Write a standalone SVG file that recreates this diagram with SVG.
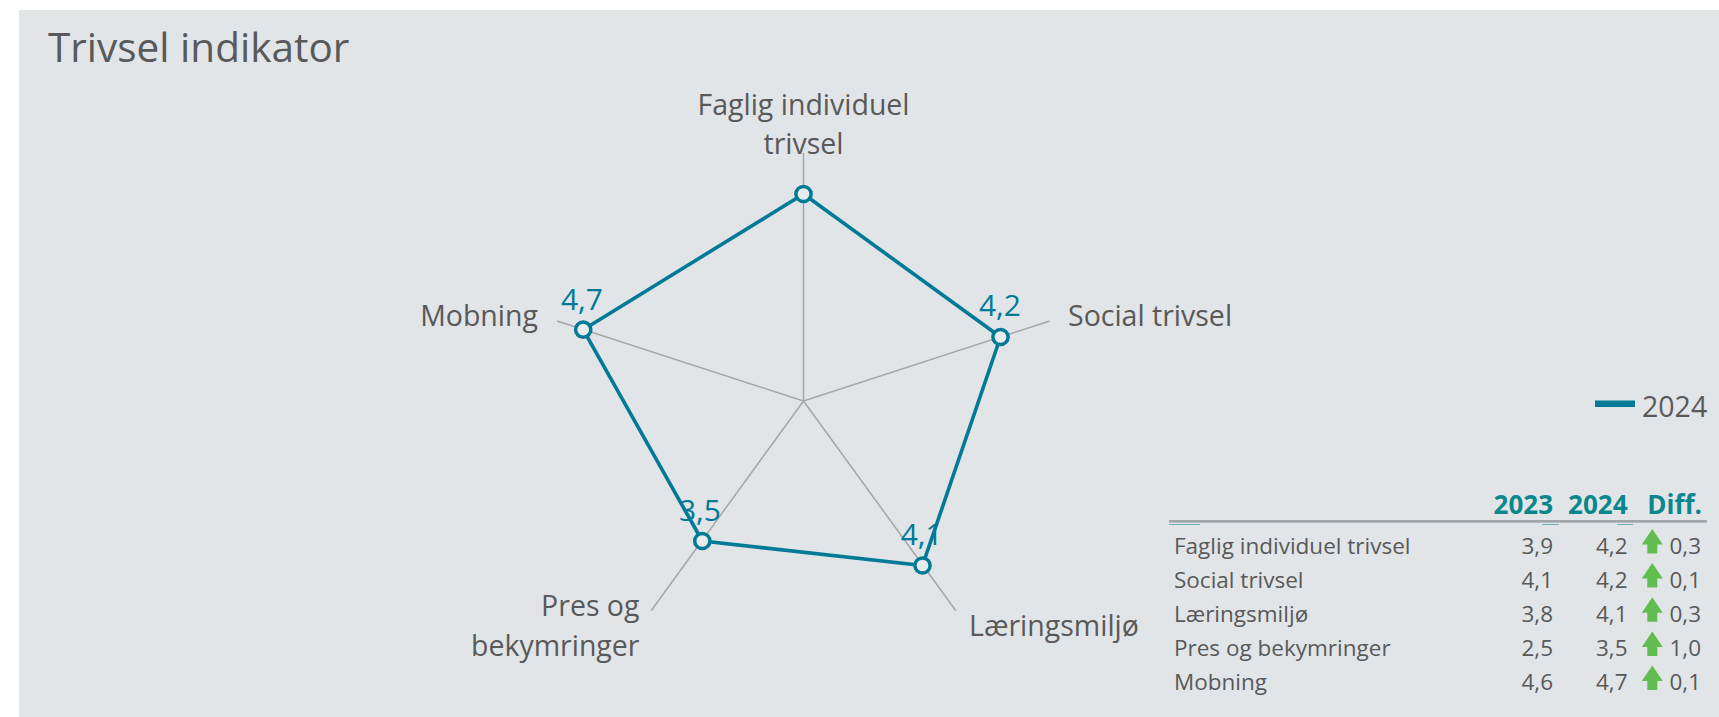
<svg xmlns="http://www.w3.org/2000/svg" width="1719" height="717" viewBox="0 0 1719 717">
<style>
.t{font-family:"Open Sans","Noto Sans",sans-serif;fill:#595959}
.ax{stroke:#A6A6A6;stroke-width:1.5;fill:none}
.lbl{font-size:28.5px}
.dl{font-family:"Open Sans","Noto Sans",sans-serif;font-size:30px;fill:#007A96}
.mk{fill:#E8ECEE;stroke:#007A96;stroke-width:3.5}
.row{font-size:22.5px}
.hd{font-family:"Open Sans","Noto Sans",sans-serif;font-size:26px;font-weight:bold;fill:#0A878D}
.arr{fill:#62BD50}
</style>
<defs>
<path id="up" d="M0,0 L10.5,15.5 L5,15.5 L5,24.5 L-5,24.5 L-5,15.5 L-10.5,15.5 Z"/>
</defs>
<rect x="0" y="0" width="1719" height="717" fill="#FFFFFF"/>
<rect x="19" y="10" width="1700" height="707" fill="#E1E5E8"/>
<g id="title"><text class="t" x="48" y="62" font-size="40.5">Trivsel indikator</text></g>
<g id="axes">
<line class="ax" x1="803.5" y1="401" x2="803.5" y2="153"/>
<line class="ax" x1="803.5" y1="401" x2="1049.8" y2="321"/>
<line class="ax" x1="803.5" y1="401" x2="955.7" y2="610.5"/>
<line class="ax" x1="803.5" y1="401" x2="651.3" y2="610.5"/>
<line class="ax" x1="803.5" y1="401" x2="557.2" y2="321"/>
</g>
<g id="connectors">
<polygon points="803.5,194 1000.5,337 922.5,565.5 702.3,541 583.2,329.7" fill="none" stroke="#007A96" stroke-width="3.6" stroke-linejoin="round"/>
</g>
<g id="node-faglig">
<circle class="mk" cx="803.5" cy="194" r="7.6"/>
<text class="t lbl" x="803.5" y="115" text-anchor="middle">Faglig individuel</text>
<text class="t lbl" x="803.5" y="154" text-anchor="middle">trivsel</text>
</g>
<g id="node-social">
<circle class="mk" cx="1000.5" cy="337" r="7.6"/>
<text class="dl" x="1000" y="316" text-anchor="middle">4,2</text>
<text class="t lbl" x="1068" y="326">Social trivsel</text>
</g>
<g id="node-laering">
<circle class="mk" cx="922.5" cy="565.5" r="7.6"/>
<text class="dl" x="921.7" y="544.5" text-anchor="middle">4,1</text>
<text class="t lbl" x="969" y="636">Læringsmiljø</text>
</g>
<g id="node-pres">
<circle class="mk" cx="702.3" cy="541" r="7.6"/>
<text class="dl" x="700" y="521" text-anchor="middle">3,5</text>
<text class="t lbl" x="639.5" y="616" text-anchor="end">Pres og</text>
<text class="t lbl" x="639.5" y="656" text-anchor="end">bekymringer</text>
</g>
<g id="node-mobning">
<circle class="mk" cx="583.2" cy="329.7" r="7.6"/>
<text class="dl" x="582" y="310" text-anchor="middle">4,7</text>
<text class="t lbl" x="538" y="326" text-anchor="end">Mobning</text>
</g>
<g id="legend">
<rect x="1595" y="400.5" width="40" height="6.5" fill="#007A96"/>
<text class="t" x="1642" y="417" font-size="28.5">2024</text>
</g>
<g id="table">
<text class="hd" x="1553" y="514" text-anchor="end">2023</text>
<text class="hd" x="1627.5" y="514" text-anchor="end">2024</text>
<text class="hd" x="1702" y="514" text-anchor="end">Diff.</text>
<rect x="1169" y="520" width="538" height="2.7" fill="#A0A6AB"/>
<rect x="1169" y="524" width="31" height="1" fill="#6FB3BC"/>
<rect x="1542" y="524" width="17" height="1" fill="#6FB3BC"/>
<rect x="1617" y="524" width="16" height="1" fill="#6FB3BC"/>
<g class="t row">
<text x="1174" y="553.5">Faglig individuel trivsel</text>
<text x="1174" y="587.5">Social trivsel</text>
<text x="1174" y="621.7">Læringsmiljø</text>
<text x="1174" y="656">Pres og bekymringer</text>
<text x="1174" y="690">Mobning</text>
</g>
<g class="t row" text-anchor="end">
<text x="1553" y="553.5">3,9</text>
<text x="1553" y="587.5">4,1</text>
<text x="1553" y="621.7">3,8</text>
<text x="1553" y="656">2,5</text>
<text x="1553" y="690">4,6</text>
<text x="1627.5" y="553.5">4,2</text>
<text x="1627.5" y="587.5">4,2</text>
<text x="1627.5" y="621.7">4,1</text>
<text x="1627.5" y="656">3,5</text>
<text x="1627.5" y="690">4,7</text>
<text x="1701" y="553.5">0,3</text>
<text x="1701" y="587.5">0,1</text>
<text x="1701" y="621.7">0,3</text>
<text x="1701" y="656">1,0</text>
<text x="1701" y="690">0,1</text>
</g>
<use href="#up" class="arr" x="1652.3" y="529"/>
<use href="#up" class="arr" x="1652.3" y="563"/>
<use href="#up" class="arr" x="1652.3" y="597.2"/>
<use href="#up" class="arr" x="1652.3" y="631.5"/>
<use href="#up" class="arr" x="1652.3" y="665.5"/>
</g>
</svg>
